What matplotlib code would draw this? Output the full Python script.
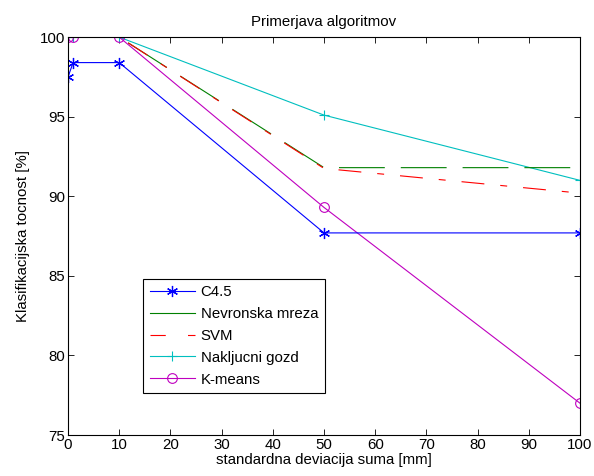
import matplotlib
matplotlib.use('Agg')
import matplotlib.pyplot as plt
from matplotlib.lines import Line2D

plt.rcParams['font.family'] = ['Liberation Sans', 'DejaVu Sans']
plt.rcParams['font.size'] = 10.8
plt.rcParams['lines.scale_dashes'] = False

x = [0, 1, 10, 50, 100]
c45 = [97.5, 98.4, 98.4, 87.7, 87.7]
nevronska = [100, 100, 100, 91.8, 91.8]
svm = [100, 100, 100, 91.75, 90.2]
gozd = [100, 100, 100, 95.1, 91.0]
kmeans = [100, 100, 100, 89.3, 77.0]

labels = ['C4.5', 'Nevronska mreza', 'SVM', 'Nakljucni gozd', 'K-means']
blue = (0, 0, 1)
green = (0, 0.5, 0)
red = (1, 0, 0)
cyan = (0, 0.75, 0.75)
magenta = (0.75, 0, 0.75)

fig = plt.figure(figsize=(5.94, 4.76), dpi=100)
ax = fig.add_axes([0.1145, 0.086, 0.862, 0.836])

lw = 0.8
star = (6, 2, 0)
ax.plot(x, gozd, color=cyan, lw=lw, marker='+', ms=7, mew=0.8)
ax.plot(x, nevronska, color=green, lw=lw, dashes=[33, 11.5])
ax.plot(x, svm, color=red, lw=lw, dashes=[16.5, 11.5, 5, 11.5])
ax.plot(x, kmeans, color=magenta, lw=lw, marker='o', ms=7, mfc='none', mew=0.8)
ax.plot(x, c45, color=blue, lw=lw, marker=star, ms=8, mew=0.9)

handles = [
    Line2D([], [], color=blue, lw=lw, marker=star, ms=8, mew=0.9),
    Line2D([], [], color=green, lw=lw),
    Line2D([], [], color=red, lw=lw, dashes=[11, 16, 6, 10]),
    Line2D([], [], color=cyan, lw=lw, marker='+', ms=7, mew=0.8),
    Line2D([], [], color=magenta, lw=lw, marker='o', ms=7, mfc='none', mew=0.8),
]
leg = ax.legend(handles, labels, loc='lower left', bbox_to_anchor=(0.146, 0.105),
                fancybox=False, edgecolor='black', framealpha=1,
                handlelength=3.0, handletextpad=0.4, borderaxespad=0,
                labelspacing=0.52, borderpad=0.45)
leg.get_frame().set_linewidth(0.8)

ax.set_xlim(0, 100)
ax.set_ylim(75, 100)
ax.set_xticks(range(0, 101, 10))
ax.set_yticks(range(75, 101, 5))
ax.tick_params(direction='in', top=True, right=True, length=4, width=0.6, pad=2)
for s in ax.spines.values():
    s.set_linewidth(0.8)

ax.set_title('Primerjava algoritmov', fontsize=10.8, pad=8)
ax.set_xlabel('standardna deviacija suma [mm]', labelpad=1)
ax.set_ylabel('Klasifikacijska tocnost [%]', labelpad=7)

fig.savefig('out.png', dpi=100)
